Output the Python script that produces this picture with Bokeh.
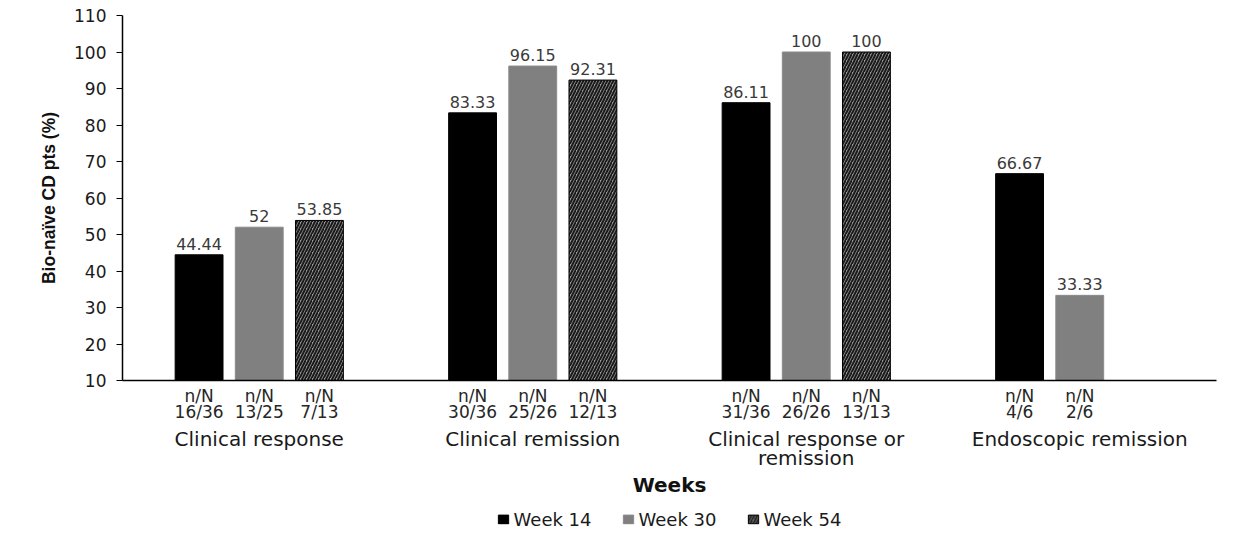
from bokeh.plotting import figure
from bokeh.layouts import column
from bokeh.models import (ColumnDataSource, LinearAxis, FixedTicker, Range1d,
                          Legend, LegendItem)
from bokeh.core.properties import value
from bokeh.embed import file_html
from bokeh.resources import INLINE

categories = ["Clinical response", "Clinical remission",
              "Clinical response or\nremission", "Endoscopic remission"]
series_names = ["Week 14", "Week 30", "Week 54"]
week14 = [44.44, 83.33, 86.11, 66.67]
week30 = [52, 96.15, 100, 33.33]
week54 = [53.85, 92.31, 100, None]
nN14 = ["16/36", "30/36", "31/36", "4/6"]
nN30 = ["13/25", "25/26", "26/26", "2/6"]
nN54 = ["7/13", "12/13", "13/13", None]
y_ticks = [10, 20, 30, 40, 50, 60, 70, 80, 90, 100, 110]

FONT = "DejaVu Sans"
offsets = [-0.22, 0.0, 0.22]
bar_w = 0.175

p = figure(frame_width=1094, frame_height=365, output_backend="svg", toolbar_location=None,
           x_range=Range1d(0, 4), y_range=Range1d(10, 110),
           min_border_left=122, min_border_top=15, min_border_right=20, min_border_bottom=0)
p.grid.visible = False
p.outline_line_color = None
p.background_fill_color = "white"

styles = [
    dict(fill_color="black", line_color="black"),
    dict(fill_color="#808080", line_color="#8a8a8a"),
    dict(fill_color="#9a9a9a", line_color="black", hatch_pattern="/",
         hatch_color="#1a1a1a", hatch_scale=6, hatch_weight=2),
]

# legend strip below the chart (same data, drawn out of its visible range)
lg = figure(frame_width=1094, frame_height=40, output_backend="svg", toolbar_location=None,
            x_range=Range1d(0, 4), y_range=Range1d(500, 501),
            min_border_left=122, min_border_top=0, min_border_right=20, min_border_bottom=0)
lg.axis.visible = False
lg.grid.visible = False
lg.outline_line_color = None

tick_pos = []
tick_lab = {}
leg_renderers = []
for s, (vals, nn) in enumerate([(week14, nN14), (week30, nN30), (week54, nN54)]):
    xs, tops, labs = [], [], []
    for i, v in enumerate(vals):
        if v is None:
            continue
        x = i + 0.5 + offsets[s]
        xs.append(x)
        tops.append(v)
        labs.append(f"{v:g}")
        tick_pos.append(x)
        tick_lab[x] = "n/N\n" + nn[i]
    src = ColumnDataSource(dict(x=xs, top=tops, lab=labs))
    p.vbar(x="x", top="top", bottom=10, width=bar_w, source=src, line_width=1,
           **styles[s])
    p.text(x="x", y="top", text="lab", source=src, text_align="center",
           text_baseline="alphabetic", y_offset=-11, text_font=value(FONT),
           text_font_size="16px", text_color="#3a3a3a")
    r = lg.vbar(x="x", top="top", bottom=10, width=bar_w, source=src, line_width=1,
                **styles[s])
    leg_renderers.append(r)

# y axis
ya = p.yaxis[0]
ya.ticker = FixedTicker(ticks=y_ticks)
ya.minor_tick_line_color = None
ya.major_tick_in = 0
ya.major_tick_out = 6
ya.major_label_standoff = 10
ya.axis_line_color = "black"
ya.axis_line_width = 1.5
ya.major_label_text_font = FONT
ya.major_label_text_font_size = "17px"
ya.major_label_text_color = "#1a1a1a"
ya.axis_label = "Bio-naïve CD pts (%)"
ya.axis_label_text_font = "Liberation Sans"
ya.axis_label_text_font_style = "bold"
ya.axis_label_text_font_size = "17.5px"
ya.axis_label_text_color = "#111111"
ya.axis_label_standoff = 12

# bar label axis
xa = p.xaxis[0]
xa.ticker = FixedTicker(ticks=sorted(tick_pos))
xa.major_label_overrides = tick_lab
xa.major_tick_line_color = None
xa.minor_tick_line_color = None
xa.axis_line_color = "black"
xa.axis_line_width = 1.5
xa.major_label_text_font = FONT
xa.major_label_text_font_size = "17px"
xa.major_label_text_line_height = 0.8
xa.major_label_text_color = "#262626"
xa.major_label_standoff = -1

# group axis
centers = [i + 0.5 for i in range(len(categories))]
ga = LinearAxis(ticker=FixedTicker(ticks=centers),
                major_label_overrides={c: categories[i] for i, c in enumerate(centers)})
ga.axis_line_color = None
ga.major_tick_line_color = None
ga.minor_tick_line_color = None
ga.major_label_text_font = FONT
ga.major_label_text_font_size = "20px"
ga.major_label_text_line_height = 0.8
ga.major_label_text_color = "#1a1a1a"
ga.major_label_standoff = -4
ga.axis_label = "Weeks"
ga.axis_label_text_font = FONT
ga.axis_label_text_font_style = "bold"
ga.axis_label_text_font_size = "20px"
ga.axis_label_text_color = "#111111"
ga.axis_label_standoff = 0
p.add_layout(ga, "below")

legend = Legend(items=[LegendItem(label=n, renderers=[r]) for n, r in zip(series_names, leg_renderers)],
                orientation="horizontal", location="center",
                label_text_font=FONT, label_text_font_size="18px",
                label_text_color="#1a1a1a", glyph_width=13, glyph_height=11,
                label_standoff=4, spacing=30, border_line_color=None,
                background_fill_alpha=0, padding=3, margin=0)
lg.add_layout(legend, "center")

open("out.html", "w").write(file_html(column(p, lg, spacing=0), INLINE))
